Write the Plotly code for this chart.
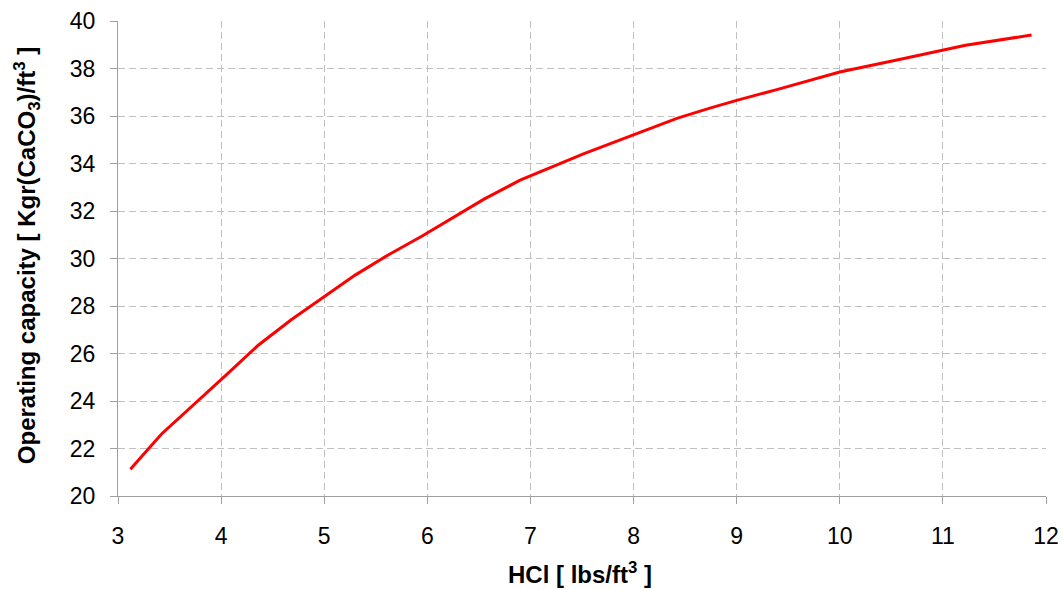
import plotly.graph_objects as go

hcl = [3.12, 3.42, 4.05, 4.36, 4.68, 5.0, 5.3, 5.62, 5.95, 6.55, 6.9, 7.52, 8.0, 8.42, 8.74, 9.0, 9.38, 10.0, 10.6, 11.22, 11.86]
capacity = [21.13, 22.6, 25.1, 26.35, 27.42, 28.4, 29.3, 30.15, 30.95, 32.5, 33.3, 34.42, 35.2, 35.9, 36.33, 36.66, 37.1, 37.85, 38.4, 38.98, 39.41]

fig = go.Figure()
fig.add_trace(go.Scatter(x=hcl, y=capacity, mode="lines",
                         line=dict(color="#FF0000", width=3), showlegend=False))

font_family = "Liberation Sans, Arial, sans-serif"
axis_common = dict(
    showline=True, linecolor="#A0A0A0", linewidth=1,
    ticks="outside", ticklen=7, tickcolor="#A0A0A0", tickwidth=1,
    showgrid=True, gridcolor="#C0C0C0", gridwidth=1, griddash="7px,4px",
    zeroline=False, automargin=False,
    tickfont=dict(family=font_family, size=23, color="#000000"),
)
fig.update_xaxes(range=[3, 12], tickmode="linear", tick0=3, dtick=1,
                 ticklabelstandoff=12, **axis_common)
fig.update_yaxes(range=[20, 40], tickmode="linear", tick0=20, dtick=2,
                 ticklabelstandoff=10, **axis_common)

fig.add_annotation(text="<b>HCl [ lbs/ft<sup>3</sup> ]</b>", xref="paper", yref="paper",
                   x=0.498, y=-0.163, xanchor="center", yanchor="middle", showarrow=False,
                   font=dict(family=font_family, size=24, color="#000000"))
fig.add_annotation(text="<b>Operating capacity [ Kgr(CaCO<sub>3</sub>)/ft<sup>3</sup> ]</b>",
                   xref="paper", yref="paper", x=-0.098, y=0.505, textangle=-90,
                   xanchor="center", yanchor="middle", showarrow=False,
                   font=dict(family=font_family, size=24, color="#000000"))

fig.update_layout(
    width=1063, height=590,
    margin=dict(l=118, r=17, t=21, b=94),
    paper_bgcolor="#FFFFFF", plot_bgcolor="#FFFFFF",
)
# remove the default page margin so the figure fills the window exactly
fig.write_html("out.html", config={"displayModeBar": False},
               post_script="document.body.style.margin='0';document.body.style.overflow='hidden';")
